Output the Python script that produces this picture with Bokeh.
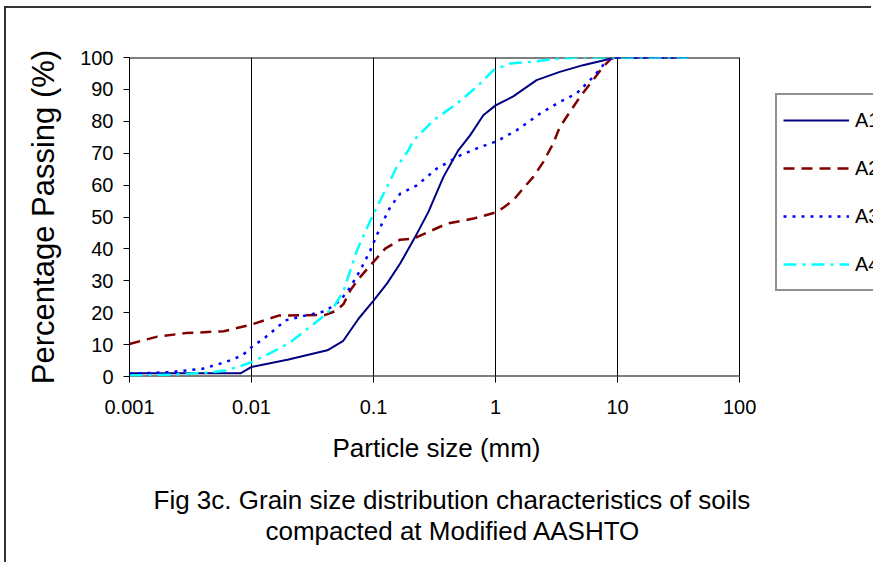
from bokeh.plotting import figure
from bokeh.models import Range1d, FixedTicker, Legend, LegendItem, Title
from bokeh.embed import file_html
from bokeh.resources import INLINE

# ---- data ----
size_a1 = [0.001, 0.00813, 0.01, 0.0201, 0.0418, 0.0565, 0.0753, 0.1, 0.1287, 0.1652,
           0.219, 0.2816, 0.373, 0.495, 0.618, 0.793, 1.0, 1.396, 2.168, 3.36, 5.21, 8.9, 10, 37.5]
pass_a1 = [1.0, 1.0, 3.0, 5.3, 8.2, 11.2, 18.1, 23.8, 29.1, 35.4,
           43.7, 51.6, 62.5, 70.9, 75.6, 81.9, 85.0, 87.8, 92.9, 95.5, 97.6, 99.7, 100, 100]

size_a2 = [0.001, 0.00169, 0.00288, 0.00593, 0.01, 0.0167, 0.0403, 0.0502, 0.0569, 0.0645,
           0.0753, 0.097, 0.1246, 0.1652, 0.2124, 0.398, 0.658, 1.0, 1.156, 1.396, 1.635,
           2.03, 2.455, 2.96, 3.36, 4.06, 4.90, 6.29, 7.6, 8.9, 10, 12.5]
pass_a2 = [10.2, 12.5, 13.6, 14.2, 16.3, 19.1, 19.3, 20.7, 22.8, 27.0,
           30.6, 35.4, 40.1, 42.9, 43.2, 47.9, 49.5, 51.4, 52.9, 55.2, 58.4,
           62.5, 67.2, 73.0, 78.2, 82.9, 87.6, 92.9, 97.1, 99.7, 100, 100]

size_a3 = [0.001, 0.00211, 0.00395, 0.00612, 0.0084, 0.01, 0.0130, 0.0190, 0.0276, 0.0403,
           0.0534, 0.0645, 0.0778, 0.094, 0.1135, 0.1369, 0.1652, 0.2265, 0.330, 0.512,
           0.745, 1.03, 1.488, 2.31, 3.36, 4.60, 5.56, 6.50, 7.6, 8.9, 10, 37.5]
pass_a3 = [0.85, 1.35, 2.4, 4.5, 6.6, 9.2, 12.3, 17.6, 19.1, 20.5,
           23.8, 28.0, 33.3, 39.5, 46.8, 53.1, 57.3, 59.9, 65.2, 69.3,
           71.9, 73.8, 77.2, 82.4, 86.1, 88.7, 91.8, 94.4, 97.6, 100, 100, 100]

size_a4 = [0.001, 0.00239, 0.00477, 0.00612, 0.00787, 0.01, 0.01385, 0.0202, 0.0276, 0.0366,
           0.0471, 0.0569, 0.0731, 0.097, 0.1208, 0.155, 0.193, 0.2124, 0.3095, 0.481,
           0.700, 0.957, 1.312, 1.91, 3.16, 4.9, 10, 37.5]
pass_a4 = [0.3, 0.6, 1.35, 1.9, 3.1, 4.5, 7.1, 10.4, 14.4, 18.1,
           21.7, 27.0, 39.5, 50.0, 57.3, 65.7, 70.9, 74.0, 80.3, 85.5,
           90.8, 96.0, 98.1, 98.6, 99.6, 100, 100, 100]

series_names = ["A1", "A2", "A3", "A4"]
x_ticks = [0.001, 0.01, 0.1, 1, 10, 100]
x_tick_labels = ["0.001", "0.01", "0.1", "1", "10", "100"]
y_ticks = [0, 10, 20, 30, 40, 50, 60, 70, 80, 90, 100]
x_view_end = 1250  # frame runs on under the legend (legend area of the chart)

FONT = "Liberation Sans"

p = figure(width=867, height=556, x_axis_type="log",
           x_range=Range1d(x_ticks[0], x_view_end), y_range=Range1d(y_ticks[0], y_ticks[-1]),
           output_backend="svg", toolbar_location=None,
           min_border_left=123, min_border_right=0,
           min_border_top=49, min_border_bottom=188)
p.styles = {"margin-left": "4px", "margin-top": "6px",
            "border-left": "2px solid #333333", "border-top": "2px solid #333333"}

p.background_fill_color = "white"
p.border_fill_color = "white"
p.outline_line_color = None

# axes
p.xaxis.ticker = FixedTicker(ticks=x_ticks, minor_ticks=[])
p.xaxis.major_label_overrides = dict(zip(x_ticks, x_tick_labels))
p.yaxis.ticker = FixedTicker(ticks=y_ticks, minor_ticks=[])
for ax in (p.xaxis[0], p.yaxis[0]):
    ax.axis_line_color = "black"
    ax.major_tick_line_color = "black"
    ax.major_tick_in = 0
    ax.major_tick_out = 6
    ax.minor_tick_line_color = None
    ax.major_label_text_font = FONT
    ax.major_label_text_font_size = "20px"
    ax.major_label_text_color = "black"
    ax.axis_label_text_font = FONT
    ax.axis_label_text_font_style = "normal"
    ax.axis_label_text_color = "black"
p.xaxis.axis_line_color = None
p.xaxis.major_label_standoff = 17
p.yaxis.major_label_standoff = 10
p.yaxis.axis_label = "Percentage Passing (%)"
p.yaxis.axis_label_text_font_size = "31px"
p.yaxis.axis_label_standoff = 16

# grid (vertical lines at each decade; the one at 100 closes the plot area)
p.xgrid.ticker = FixedTicker(ticks=x_ticks)
p.xgrid.grid_line_color = "black"
p.xgrid.grid_line_width = 1
p.ygrid.grid_line_color = None

# plot-area border: bottom axis line and top edge, 0.001 .. 100
p.line([x_ticks[0], x_ticks[-1]], [y_ticks[0], y_ticks[0]], line_color="black", line_width=2)
p.line([x_ticks[0], x_ticks[-1]], [y_ticks[-1], y_ticks[-1]], line_color="black", line_width=2)

# series
r1 = p.line(size_a1, pass_a1, line_color="#000080", line_width=2)
r2 = p.line(size_a2, pass_a2, line_color="#800000", line_width=2.5, line_dash="11 7")
r3 = p.line(size_a3, pass_a3, line_color="#0000FF", line_width=2.5, line_dash="3 6")
r4 = p.line(size_a4, pass_a4, line_color="#00FFFF", line_width=2.5, line_dash="13 6 3 6")

legend = Legend(items=[LegendItem(label=n, renderers=[r]) for n, r in
                       zip(series_names, [r1, r2, r3, r4])],
                location=(646, 85), orientation="vertical",
                glyph_width=66, glyph_height=38, label_standoff=6,
                label_text_font=FONT, label_text_font_size="20px",
                label_text_color="black", label_height=38,
                padding=6, spacing=10, margin=0,
                border_line_color="#222222", border_line_width=2,
                background_fill_color="white", background_fill_alpha=1)
p.add_layout(legend)

# x-axis title and caption
xtitle = Title(text="Particle size (mm)",
               align="left", text_font=FONT, text_font_size="26px",
               text_font_style="normal", text_color="black", offset=203, standoff=29)
cap1 = Title(text="Fig 3c. Grain size distribution characteristics of soils",
             align="left", text_font=FONT, text_font_size="26px",
             text_font_style="normal", text_color="black", offset=24, standoff=10)
cap2 = Title(text="compacted at Modified AASHTO",
             align="left", text_font=FONT, text_font_size="26px",
             text_font_style="normal", text_color="black", offset=136, standoff=-12)
p.add_layout(xtitle, "below")
p.add_layout(cap1, "below")
p.add_layout(cap2, "below")

open("out.html", "w").write(file_html(p, INLINE))
